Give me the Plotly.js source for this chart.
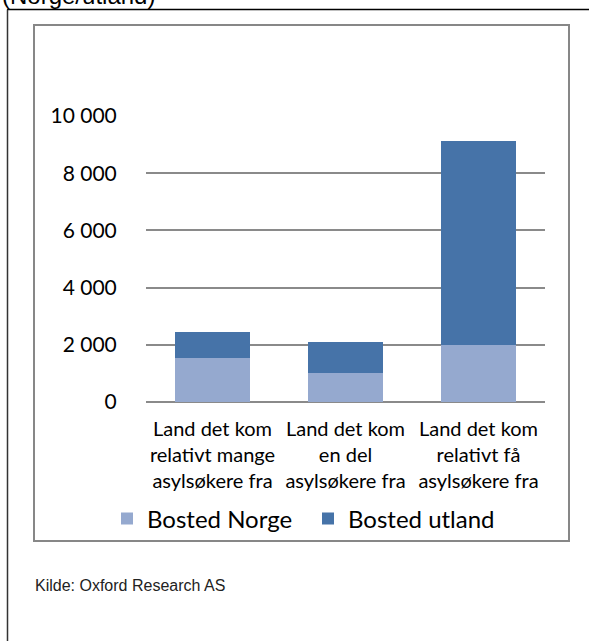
<!DOCTYPE html>
<html>
<head>
<meta charset="utf-8">
<script src="https://cdn.plot.ly/plotly-3.0.1.min.js"></script>
<style>html,body{margin:0;padding:0;background:#fff;}#chart{width:589px;height:641px;}</style>
</head>
<body>
<div id="chart"></div>
<script>
const categories = [
  "Land det kom<br>relativt mange<br>asylsøkere fra",
  "Land det kom<br>en del<br>asylsøkere fra",
  "Land det kom<br>relativt få<br>asylsøkere fra"
];
const bostedNorge = [1525, 1020, 2010];
const bostedUtland = [920, 1065, 7110];
const seriesNames = ["Bosted Norge", "Bosted utland"];
const yTickVals = [0, 2000, 4000, 6000, 8000, 10000];
const yTickText = ["0", "2 000", "4 000", "6 000", "8 000", "10 000"];
const titleText = "(Norge/utland)";
const sourceText = "Kilde: Oxford Research AS";

// pixel helpers for layout placement (plot area 146..545 x, 116..402 y)
const PL = 146, PR = 545, PT = 116, PB = 402;
const px = v => (v - PL) / (PR - PL);
const py = v => (PB - v) / (PB - PT);

const traces = [
  {type: "bar", name: seriesNames[0], x: categories, y: bostedNorge,
   marker: {color: "#95a9cf"}, width: 0.57, hoverinfo: "skip"},
  {type: "bar", name: seriesNames[1], x: categories, y: bostedUtland,
   marker: {color: "#4673a8"}, width: 0.57, hoverinfo: "skip"}
];

const layout = {
  width: 589, height: 641,
  margin: {l: PL, r: 589 - PR, t: PT, b: 641 - PB, pad: 0},
  paper_bgcolor: "#fff", plot_bgcolor: "#fff",
  barmode: "stack",
  showlegend: true,
  font: {family: "Lato, 'Open Sans', sans-serif", color: "#000"},
  xaxis: {
    type: "category", showgrid: false, zeroline: false, showline: false,
    ticks: "outside", ticklen: 9, tickcolor: "rgba(0,0,0,0)",
    tickfont: {family: "Lato", size: 20, color: "#000"}, fixedrange: true
  },
  yaxis: {
    range: [0, 10000], tickvals: yTickVals, ticktext: yTickText,
    showgrid: true, gridcolor: "#8a8a8a", gridwidth: 2,
    zeroline: true, zerolinecolor: "#8a8a8a", zerolinewidth: 2,
    showline: false, ticks: "outside", ticklen: 24, tickcolor: "rgba(0,0,0,0)",
    tickfont: {family: "Lato", size: 21, color: "#000"}, fixedrange: true
  },
  legend: {
    orientation: "h", x: px(107), xanchor: "left", y: py(519), yanchor: "middle",
    font: {family: "Lato", size: 24, color: "#000"}, traceorder: "normal",
    entrywidth: 156, entrywidthmode: "pixels",
    bgcolor: "rgba(0,0,0,0)"
  },
  shapes: [
    {type: "line", xref: "paper", yref: "paper", x0: px(7), x1: px(600), y0: py(9.5), y1: py(9.5),
     line: {color: "#000", width: 1.5}},
    {type: "line", xref: "paper", yref: "paper", x0: px(7.5), x1: px(7.5), y0: py(9.5), y1: py(660),
     line: {color: "#333", width: 1.5}},
    {type: "rect", xref: "paper", yref: "paper", x0: px(34), x1: px(569), y0: py(541), y1: py(25),
     line: {color: "#878787", width: 2}, fillcolor: "rgba(0,0,0,0)"}
  ],
  annotations: [
    {text: titleText, xref: "paper", yref: "paper", x: px(0), xanchor: "left",
     y: py(11), yanchor: "bottom", showarrow: false,
     font: {family: "Liberation Sans, Arial, sans-serif", size: 24, color: "#000"}},
    {text: sourceText, xref: "paper", yref: "paper", x: px(33), xanchor: "left",
     y: py(585), yanchor: "middle", showarrow: false,
     font: {family: "'Liberation Sans Narrow', 'Arial Narrow', sans-serif", size: 16, color: "#222"}}
  ]
};

Plotly.newPlot("chart", traces, layout, {staticPlot: true, displayModeBar: false});
</script>
</body>
</html>
